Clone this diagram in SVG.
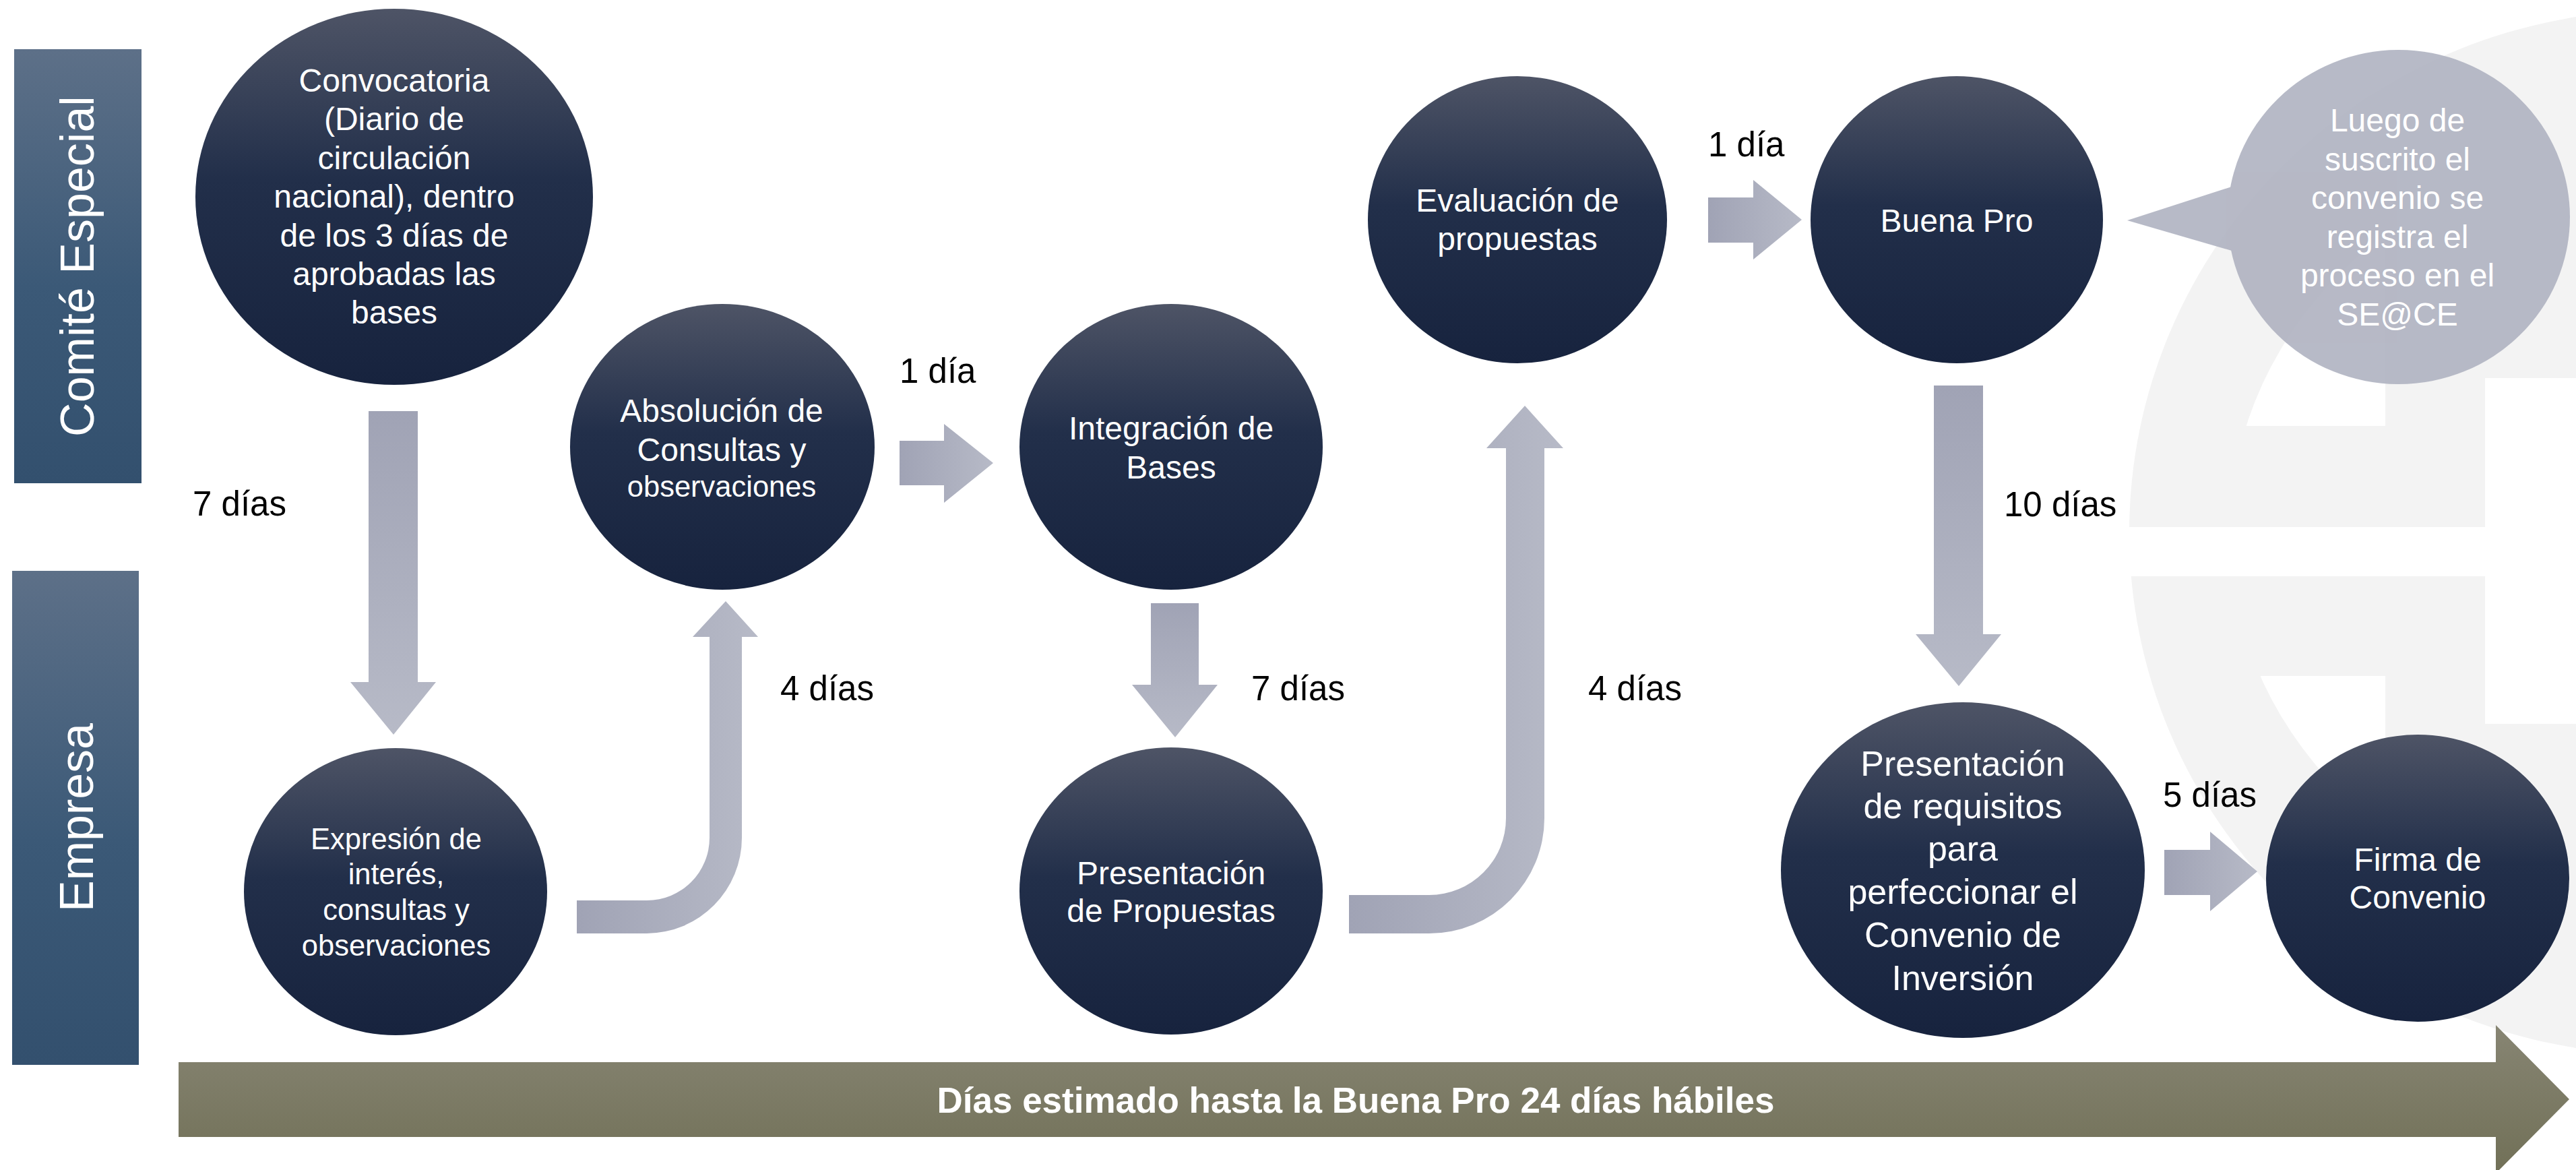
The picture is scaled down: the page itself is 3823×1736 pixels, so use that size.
<svg xmlns="http://www.w3.org/2000/svg" width="3823" height="1736" viewBox="0 0 3823 1736">
<defs>
<style>
.nt{font-family:"Liberation Sans",Arial,sans-serif;fill:#ffffff;text-anchor:middle;font-size:48px}
.lbl{font-family:"Liberation Sans",Arial,sans-serif;fill:#000000;font-size:51px}
.lane{font-family:"Liberation Sans",Arial,sans-serif;fill:#ffffff;text-anchor:middle;font-size:70px}
.wm{fill:#f3f3f3}
.arrH{fill:url(#arrH)}
.arrV{fill:url(#arrV)}
.circ{fill:url(#circ)}
</style>
<linearGradient id="circ" x1="0" y1="0" x2="0" y2="1">
<stop offset="0" stop-color="#4e5466"/>
<stop offset="0.45" stop-color="#222f4a"/>
<stop offset="1" stop-color="#17233e"/>
</linearGradient>
<linearGradient id="laneG" x1="0" y1="0" x2="0" y2="1">
<stop offset="0" stop-color="#5d7088"/>
<stop offset="0.55" stop-color="#3b5977"/>
<stop offset="1" stop-color="#33506e"/>
</linearGradient>
<linearGradient id="arrH" x1="0" y1="0" x2="1" y2="0">
<stop offset="0" stop-color="#a0a3b5"/>
<stop offset="1" stop-color="#b7bac7"/>
</linearGradient>
<linearGradient id="arrV" x1="0" y1="0" x2="0" y2="1">
<stop offset="0" stop-color="#a0a3b5"/>
<stop offset="1" stop-color="#b7bac7"/>
</linearGradient>
<linearGradient id="timeG" x1="0" y1="0" x2="0" y2="1">
<stop offset="0" stop-color="#878573"/>
<stop offset="1" stop-color="#717057"/>
</linearGradient>
<clipPath id="innerE">
<ellipse cx="3950" cy="790" rx="641" ry="576"/>
</clipPath>
</defs>
<rect x="0" y="0" width="3823" height="1736" fill="#ffffff"/>

<g id="watermark">
<ellipse class="wm" cx="3950" cy="790" rx="790" ry="775"/>
<g clip-path="url(#innerE)" fill="#ffffff">
<rect x="3000" y="0" width="540" height="632"/>
<rect x="3000" y="1003" width="540" height="733"/>
</g>
<rect x="3100" y="782" width="723" height="73" fill="#ffffff"/>
<rect x="3688" y="561" width="135" height="513" fill="#ffffff"/>
</g>

<g id="lane-comite">
<rect x="21" y="73" width="189" height="644" fill="url(#laneG)"/>
<text class="lane" transform="translate(139,395) rotate(-90)" x="0" y="0">Comité Especial</text>
</g>
<g id="lane-empresa">
<rect x="18" y="847" width="188" height="733" fill="url(#laneG)"/>
<text class="lane" transform="translate(138,1213) rotate(-90)" x="0" y="0">Empresa</text>
</g>

<g id="connectors">
<path class="arrV" d="M547,610 H620 V1012 H647 L584,1090 L520,1012 H547 Z"/>
<path class="arrH" d="M856,1336 H960 A93,93 0 0 0 1053,1243 V945 H1028 L1077,892 L1125,945 H1101 V1243 A142,142 0 0 1 960,1385 H856 Z"/>
<path class="arrH" d="M1335,654 H1401 V629 L1474,687 L1401,746 V720 H1335 Z"/>
<path class="arrV" d="M1708,895 H1779 V1016 H1807 L1744,1094 L1680,1016 H1708 Z"/>
<path class="arrH" d="M2002,1328 H2121 A114,114 0 0 0 2235,1214 V665 H2206 L2263,602 L2320,665 H2292 V1214 A171,171 0 0 1 2121,1385 H2002 Z"/>
<path class="arrH" d="M2535,293 H2602 V267 L2674,326 L2602,385 V360 H2535 Z"/>
<path class="arrV" d="M2870,572 H2943 V941 H2970 L2907,1018 L2843,941 H2870 Z"/>
<path class="arrH" d="M3212,1261 H3280 V1234 L3350,1293 L3280,1352 V1328 H3212 Z"/>
</g>

<g id="n-convocatoria">
<ellipse class="circ" cx="585" cy="292" rx="295" ry="279"/>
<text class="nt"><tspan x="585" y="136">Convocatoria</tspan><tspan x="585" y="193">(Diario de</tspan><tspan x="585" y="251">circulación</tspan><tspan x="585" y="308">nacional), dentro</tspan><tspan x="585" y="366">de los 3 días de</tspan><tspan x="585" y="423">aprobadas las</tspan><tspan x="585" y="480">bases</tspan></text>
</g>

<g id="n-expresion">
<ellipse class="circ" cx="587" cy="1323" rx="225" ry="213"/>
<text class="nt" font-size="43.5" style="font-size:43.5px"><tspan x="588" y="1260">Expresión de</tspan><tspan x="588" y="1312">interés,</tspan><tspan x="588" y="1365">consultas y</tspan><tspan x="588" y="1418">observaciones</tspan></text>
</g>

<g id="n-absolucion">
<ellipse class="circ" cx="1072" cy="663" rx="226" ry="212"/>
<text class="nt"><tspan x="1071" y="626">Absolución de</tspan><tspan x="1071" y="684">Consultas y</tspan></text>
<text class="nt" style="font-size:43.5px" x="1071" y="737">observaciones</text>
</g>

<g id="n-integracion">
<ellipse class="circ" cx="1738" cy="663" rx="225" ry="212"/>
<text class="nt"><tspan x="1738" y="652">Integración de</tspan><tspan x="1738" y="710">Bases</tspan></text>
</g>

<g id="n-presentacion-propuestas">
<ellipse class="circ" cx="1738" cy="1322" rx="225" ry="213"/>
<text class="nt"><tspan x="1738" y="1312">Presentación</tspan><tspan x="1738" y="1368">de Propuestas</tspan></text>
</g>

<g id="n-evaluacion">
<ellipse class="circ" cx="2252" cy="326" rx="222" ry="213"/>
<text class="nt"><tspan x="2252" y="314">Evaluación de</tspan><tspan x="2252" y="371">propuestas</tspan></text>
</g>

<g id="n-buenapro">
<ellipse class="circ" cx="2904" cy="326" rx="217" ry="213"/>
<text class="nt" x="2904" y="344">Buena Pro</text>
</g>

<g id="n-callout">
<g opacity="0.92">
<ellipse cx="3560" cy="322" rx="254" ry="248" fill="#b1b4c2"/>
<polygon points="3157,327 3312,277 3312,372" fill="#b1b4c2"/>
</g>
<text class="nt"><tspan x="3558" y="195">Luego de</tspan><tspan x="3558" y="253">suscrito el</tspan><tspan x="3558" y="310">convenio se</tspan><tspan x="3558" y="368">registra el</tspan><tspan x="3558" y="425">proceso en el</tspan><tspan x="3558" y="483">SE@CE</tspan></text>
</g>

<g id="n-requisitos">
<ellipse class="circ" cx="2913" cy="1291" rx="270" ry="249"/>
<text class="nt" style="font-size:52px"><tspan x="2913" y="1151">Presentación</tspan><tspan x="2913" y="1214">de requisitos</tspan><tspan x="2913" y="1277">para</tspan><tspan x="2913" y="1341">perfeccionar el</tspan><tspan x="2913" y="1405">Convenio de</tspan><tspan x="2913" y="1469">Inversión</tspan></text>
</g>

<g id="n-firma">
<ellipse class="circ" cx="3588" cy="1303" rx="225" ry="213"/>
<text class="nt"><tspan x="3588" y="1292">Firma de</tspan><tspan x="3588" y="1348">Convenio</tspan></text>
</g>

<g id="labels">
<text class="lbl" x="286" y="765">7 días</text>
<text class="lbl" x="1335" y="568">1 día</text>
<text class="lbl" x="1158" y="1039">4 días</text>
<text class="lbl" x="1857" y="1039">7 días</text>
<text class="lbl" x="2357" y="1039">4 días</text>
<text class="lbl" x="2535" y="232">1 día</text>
<text class="lbl" x="2974" y="766">10 días</text>
<text class="lbl" x="3210" y="1197">5 días</text>
</g>

<g id="timeline">
<path d="M265,1576 H3704 V1521 L3813,1631 L3704,1741 V1687 H265 Z" fill="url(#timeG)"/>
<text x="2012" y="1651" style="font-family:'Liberation Sans',Arial,sans-serif;font-weight:bold;font-size:53px;fill:#ffffff;text-anchor:middle">Días estimado hasta la Buena Pro 24 días hábiles</text>
</g>
</svg>
